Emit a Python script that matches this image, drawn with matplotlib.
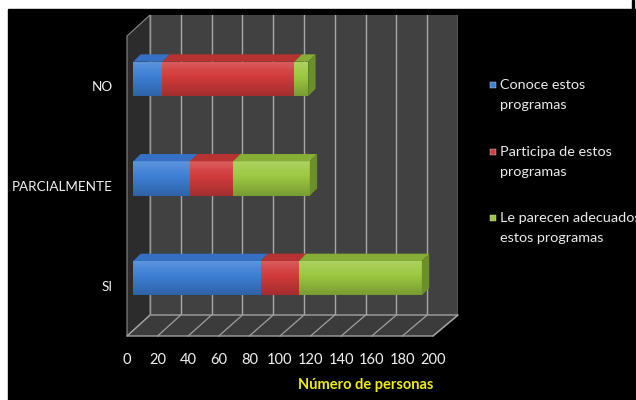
import matplotlib
matplotlib.use("Agg")
import matplotlib.pyplot as plt
from matplotlib.patches import Polygon, Rectangle
from matplotlib.colors import to_rgb
import numpy as np

# ---------------- data ----------------
categories = ["NO", "PARCIALMENTE", "SI"]
conoce = [19, 37, 83]
participa = [86, 28, 25]
adecuados = [9, 50, 80]
series_labels = ["Conoce estos\nprogramas", "Participa de estos\nprogramas",
                 "Le parecen adecuados\nestos programas"]
x_ticks = [0, 20, 40, 60, 80, 100, 120, 140, 160, 180, 200]
x_title = "Número de personas"

# ---------------- style ----------------
FONT = ["Lato", "DejaVu Sans"]
plt.rcParams["font.family"] = FONT
W, H = 636, 400
fig = plt.figure(figsize=(W / 100, H / 100), dpi=100, facecolor="white")

front_cols = ["#3d7fd6", "#d23b3b", "#9cc841"]
top_cols = ["#3570c4", "#b83232", "#86ad36"]
side_col = "#6c9029"

# layout in pixels (x from left, y from top)
FRONT = dict(x0=127, x1=433, y0=36, y1=336)
BACK = dict(x0=150, x1=458, y0=15, y1=315)
BARP = dict(x0=133.3, x1=440.3, y0=29, y1=328)
DEPTH_DX, DEPTH_DY = 7.3, 7.3  # bar top-face depth in px


def rect_of(d):
    return [d["x0"] / W, (H - d["y1"]) / H, (d["x1"] - d["x0"]) / W, (d["y1"] - d["y0"]) / H]


def shade(c, f):
    c = np.array(to_rgb(c))
    if f >= 0:
        return c + (1 - c) * f
    return c * (1 + f)


xmax = x_ticks[-1]
n = len(categories)

# background black area
bg = fig.add_axes([0, 0, 1, 1], zorder=-5)
bg.set_xlim(0, W); bg.set_ylim(H, 0); bg.axis("off")
bg.add_patch(Rectangle((8, 9), W - 8, H - 9, color="black"))
bg.add_patch(Rectangle((632, 0), 2, 9, color="black"))

# back wall
back = fig.add_axes(rect_of(BACK), zorder=0)
back.set_facecolor("#414141")
back.set_xlim(0, xmax); back.set_ylim(0, 1)
back.set_xticks(x_ticks)
back.grid(axis="x", color="#a8a8a8", lw=1.0)
back.tick_params(length=0, labelbottom=False, labelleft=False)
back.set_yticks([])
for s in back.spines.values():
    s.set_visible(False)

# floor and left wall
deco = fig.add_axes([0, 0, 1, 1], zorder=1)
deco.set_xlim(0, W); deco.set_ylim(H, 0); deco.axis("off")
deco.patch.set_alpha(0)
floor = [(FRONT["x0"], FRONT["y1"]), (FRONT["x1"], FRONT["y1"]),
         (BACK["x1"], BACK["y1"]), (BACK["x0"], BACK["y1"])]
deco.add_patch(Polygon(floor, closed=True, facecolor="#3b3b3b", edgecolor="#a0a0a0", lw=1.0))
wall = [(FRONT["x0"], FRONT["y0"]), (BACK["x0"], BACK["y0"]),
        (BACK["x0"], BACK["y1"]), (FRONT["x0"], FRONT["y1"])]
deco.add_patch(Polygon(wall, closed=True, facecolor="#2c2c2c", edgecolor="#8a8a8a", lw=0.8))
for v in x_ticks:
    xb = BACK["x0"] + (BACK["x1"] - BACK["x0"]) * v / xmax
    xf = FRONT["x0"] + (FRONT["x1"] - FRONT["x0"]) * v / xmax
    deco.plot([xb, xf], [BACK["y1"], FRONT["y1"]], color="#a0a0a0", lw=0.9)

# bars
ax = fig.add_axes(rect_of(BARP), zorder=2)
ax.patch.set_alpha(0)
ax.axis("off")
h = 0.345
dxd = DEPTH_DX / ((BARP["x1"] - BARP["x0"]) / xmax)
dyd = DEPTH_DY / ((BARP["y1"] - BARP["y0"]) / n)
ypos = np.arange(n)
series = [conoce, participa, adecuados]
lefts = np.zeros(n)
grad_f = np.concatenate([np.linspace(0.18, 0.05, 12), np.linspace(0.05, -0.22, 28)])
for si, vals in enumerate(series):
    vals = np.array(vals, dtype=float)
    bars = ax.barh(ypos, vals, left=lefts, height=h, color=front_cols[si], lw=0)
    grad = np.array([shade(front_cols[si], f) for f in grad_f])[:, None, :]
    for i, b in enumerate(bars):
        l, r = lefts[i], lefts[i] + vals[i]
        yt = ypos[i] - h / 2
        yb = ypos[i] + h / 2
        im = ax.imshow(grad, extent=[l, r, yb, yt], aspect="auto",
                       interpolation="bilinear", zorder=2)
        im.set_clip_path(b)
        ax.add_patch(Polygon([(l, yt), (r, yt), (r + dxd, yt - dyd), (l + dxd, yt - dyd)],
                             closed=True, facecolor=top_cols[si], lw=0, zorder=3))
        if si == len(series) - 1:
            ax.add_patch(Polygon([(r, yt), (r + dxd, yt - dyd), (r + dxd, yb - dyd), (r, yb)],
                                 closed=True, facecolor=side_col, lw=0, zorder=3))
    lefts = lefts + vals
ax.set_xlim(0, xmax); ax.set_ylim(n - 0.5, -0.5)

# front axes for labels
fr = fig.add_axes(rect_of(FRONT), zorder=3)
fr.patch.set_alpha(0)
fr.set_xlim(0, xmax); fr.set_ylim(n - 0.5, -0.5)
fr.set_xticks(x_ticks)
fr.set_xticklabels([str(t) for t in x_ticks])
fr.set_yticks(ypos)
fr.set_yticklabels(categories)
fr.tick_params(axis="x", length=0, pad=12, colors="#f2f2f2", labelsize=10.5)
fr.tick_params(axis="y", length=0, pad=10.5, colors="#f2f2f2", labelsize=9.7)
for s in fr.spines.values():
    s.set_visible(False)
fr.set_xlabel(x_title, color="#f0f000", fontweight="bold", fontsize=10.5)
fr.xaxis.set_label_coords(1.0, -0.14)
fr.xaxis.label.set_horizontalalignment("right")

# legend
leg_y = [85, 152, 218]
for i, lab in enumerate(series_labels):
    fig.patches.append(Rectangle((490 / W, 1 - (leg_y[i] + 3) / H), 6 / W, 6 / H,
                                 transform=fig.transFigure, facecolor=front_cols[i],
                                 edgecolor="#dddddd", lw=0.3, zorder=5))
    fig.text(500 / W, 1 - (leg_y[i] - 6) / H, lab, color="#ececec", fontsize=10.4,
             va="top", ha="left", linespacing=1.8)

fig.savefig("out.png", dpi=100, facecolor=fig.get_facecolor())
